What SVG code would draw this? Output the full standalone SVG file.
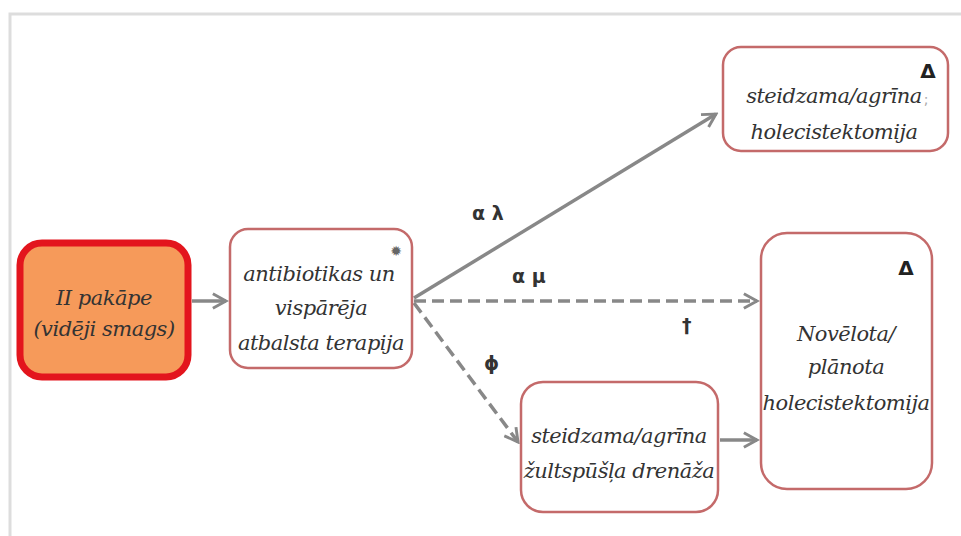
<svg xmlns="http://www.w3.org/2000/svg" width="961" height="536" viewBox="0 0 961 536">
<style>
.t{font-family:'DejaVu Serif',serif;font-style:italic;font-size:21px;fill:#333;text-anchor:middle;letter-spacing:-0.5px}
.box{fill:#fff;stroke:#c46a6a;stroke-width:2.5}
.c{stroke:#888;stroke-width:3.5;fill:none}
.d{stroke-dasharray:12 6}
.lab{font-family:'DejaVu Sans','Liberation Sans',sans-serif;font-weight:bold;font-size:19px;fill:#333}
.sym{font-family:'DejaVu Sans',sans-serif;font-weight:bold;font-size:20px;fill:#222;text-anchor:middle}
</style>
<defs>
<marker id="ah" viewBox="0 0 12 12" refX="10" refY="6" markerWidth="5" markerHeight="5" orient="auto" markerUnits="strokeWidth">
<path d="M1,1 L10,6 L1,11" fill="none" stroke="#888" stroke-width="2"/>
</marker>
</defs>
<rect width="961" height="536" fill="#fff"/>
<path d="M10,536 V14 H961" fill="none" stroke="#ddd" stroke-width="3"/>
<g id="connectors">
<line class="c" x1="192" y1="301" x2="226" y2="301" marker-end="url(#ah)"/>
<line class="c" x1="414" y1="298" x2="716" y2="114" marker-end="url(#ah)"/>
<line class="c d" x1="414" y1="301" x2="757" y2="301" marker-end="url(#ah)"/>
<line class="c d" x1="414" y1="303" x2="518" y2="442" marker-end="url(#ah)"/>
<line class="c" x1="720" y1="440" x2="757" y2="440" marker-end="url(#ah)"/>
<text class="lab" x="472" y="220">α λ</text>
<text class="lab" x="512" y="283">α μ</text>
<text class="lab" x="682" y="332">†</text>
<text class="lab" x="484" y="370">ϕ</text>
</g>
<g id="n1">
<rect x="20" y="243" width="168" height="134" rx="22" fill="#f69a5a" stroke="#e3151d" stroke-width="7"/>
<text class="t" x="104" y="305">II pakāpe</text>
<text class="t" x="104" y="336">(vidēji smags)</text>
</g>
<g id="n2">
<rect class="box" x="230" y="229" width="182" height="139" rx="18"/>
<text class="t" x="319" y="281">antibiotikas un</text>
<text class="t" x="321" y="315">vispārēja</text>
<text class="t" x="321" y="350">atbalsta terapija</text>
<text x="396" y="256" font-family="DejaVu Sans,sans-serif" font-size="14" fill="#666" text-anchor="middle">✹</text>
</g>
<g id="n3">
<rect class="box" x="723" y="47" width="225" height="104" rx="18"/>
<text class="t" x="834" y="103">steidzama/agrīna</text>
<text class="t" x="834" y="139">holecistektomija</text>
<text class="sym" x="928" y="78">Δ</text>
<text x="926" y="104" font-family="DejaVu Sans,sans-serif" font-size="14" fill="#aaa" text-anchor="middle">;</text>
</g>
<g id="n4">
<rect class="box" x="761" y="233" width="171" height="256" rx="26"/>
<text class="t" x="846" y="341">Novēlota/</text>
<text class="t" x="846" y="374">plānota</text>
<text class="t" x="846" y="410">holecistektomija</text>
<text class="sym" x="906" y="275">Δ</text>
</g>
<g id="n5">
<rect class="box" x="521" y="382" width="197" height="130" rx="22"/>
<text class="t" x="619" y="443">steidzama/agrīna</text>
<text class="t" x="619" y="478">žultspūšļa drenāža</text>
</g>
</svg>
